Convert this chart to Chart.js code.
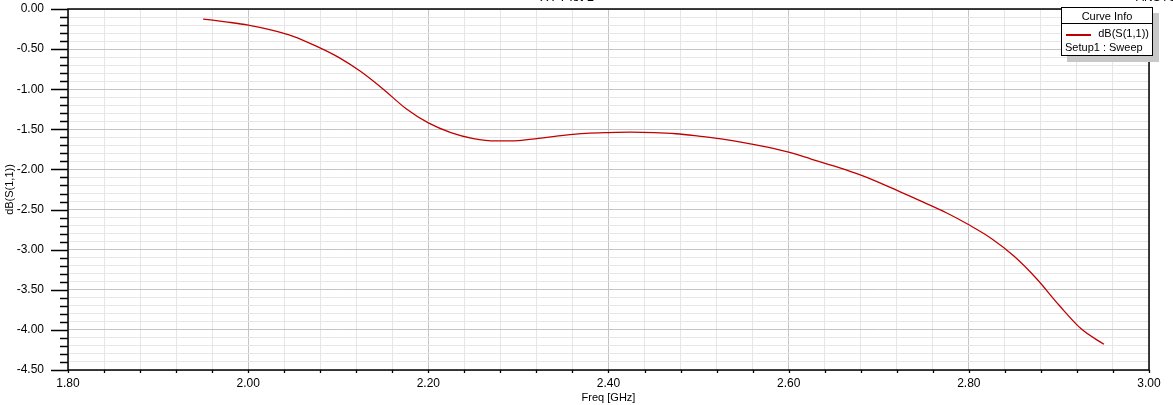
<!DOCTYPE html>
<html>
<head>
<meta charset="utf-8">
<script src="https://cdn.jsdelivr.net/npm/chart.js@4.4.1/dist/chart.umd.min.js"></script>
<style>
    body { margin: 0; background: #fff; overflow: hidden; }
    #wrap { position: relative; width: 1173px; height: 405px; }
    #plot { position: absolute; left: 0; top: 0; }
    .cut { position: absolute; font-family: "Liberation Sans", Arial, sans-serif; color: #000; }
    #legend {
        position: absolute; left: 1061px; top: 7px; width: 90px; height: 47px;
        border: 1px solid #000; background: #fff; box-shadow: 6px 6px 0 #c8c8c8;
        font-family: "Liberation Sans", Arial, sans-serif; font-size: 11px; color: #000;
    }
    #legend .head { height: 15px; line-height: 16px; text-align: center; border-bottom: 1px solid #000; }
    #legend .row { position: relative; height: 14px; line-height: 14px; padding: 0 3px; }
    #legend .swatch { position: absolute; left: 4px; top: 8px; width: 25px; height: 2px; background: #c00000; }
</style>
</head>
<body>
<div id="wrap">
    <canvas id="plot" width="1173" height="405"></canvas>
    <div class="cut" style="left:540px; top:-11px; font-size:13px;">XY Plot 1</div>
    <div class="cut" style="left:1136px; top:-10px; font-size:12px;">ANSYS</div>
    <div id="legend">
        <div class="head">Curve Info</div>
        <div class="row" style="text-align:right; margin-top:2px;"><span class="swatch"></span>dB(S(1,1))</div>
        <div class="row">Setup1 : Sweep</div>
    </div>
</div>
<script>
// Freq in GHz, S11 in dB
const freq = [1.95, 1.975, 2.00, 2.025, 2.05, 2.075, 2.10, 2.125, 2.15, 2.175, 2.20, 2.225, 2.25, 2.275,
    2.30, 2.325, 2.35, 2.375, 2.40, 2.425, 2.45, 2.475, 2.50, 2.525, 2.55, 2.575, 2.60, 2.625, 2.65, 2.675,
    2.70, 2.725, 2.75, 2.775, 2.80, 2.825, 2.85, 2.875, 2.90, 2.925, 2.95];
const s11 = [-0.125, -0.16, -0.20, -0.26, -0.34, -0.46, -0.60, -0.78, -1.00, -1.24, -1.42, -1.54, -1.615, -1.645,
    -1.64, -1.61, -1.575, -1.55, -1.54, -1.535, -1.54, -1.555, -1.585, -1.62, -1.665, -1.72, -1.785, -1.87, -1.955, -2.05,
    -2.16, -2.285, -2.41, -2.54, -2.69, -2.86, -3.08, -3.36, -3.69, -3.99, -4.18];

const xMajor = 0.2, yMajor = 0.5;

function isMajor(v, step) {
    return Math.abs(v / step - Math.round(v / step)) < 1e-6;
}

// box border + tick marks
const frame = {
    id: 'frame',
    afterDraw(chart) {
        const ctx = chart.ctx;
        const a = chart.chartArea;
        const xs = chart.scales.x, ys = chart.scales.y;
        ctx.save();
        ctx.strokeStyle = '#000';
        ctx.lineWidth = 1.5;
        ctx.strokeRect(a.left, a.top, a.right - a.left, a.bottom - a.top);
        ctx.lineWidth = 1.3;
        ctx.beginPath();
        ys.ticks.forEach(t => {
            const y = Math.round(ys.getPixelForValue(t.value)) + 0.5;
            const len = isMajor(t.value, yMajor) ? 17 : 8;
            ctx.moveTo(a.left - len, y);
            ctx.lineTo(a.left, y);
        });
        xs.ticks.forEach(t => {
            const x = Math.round(xs.getPixelForValue(t.value)) + 0.5;
            ctx.moveTo(x, a.bottom);
            ctx.lineTo(x, a.bottom + 3);
        });
        ctx.stroke();
        ctx.restore();
    }
};

const data = {
    datasets: [{
        label: 'dB(S(1,1))',
        data: freq.map((f, i) => ({ x: f, y: s11[i] })),
        borderColor: '#c00000',
        borderWidth: 1.3,
        pointRadius: 0,
        cubicInterpolationMode: 'monotone',
        fill: false
    }]
};

const config = {
    type: 'line',
    data: data,
    options: {
        responsive: false,
        animation: false,
        layout: { padding: { top: 9, right: 24, left: 0, bottom: 0 } },
        plugins: { legend: { display: false }, tooltip: { enabled: false } },
        scales: {
            x: {
                type: 'linear',
                min: 1.8,
                max: 3.0,
                afterFit: (s) => { s.height = 35; s.paddingLeft = 0; s.paddingRight = 0; },
                afterBuildTicks: (s) => {
                    const t = [];
                    for (let i = 0; i <= 30; i++) t.push({ value: +(1.8 + i * 0.04).toFixed(2) });
                    s.ticks = t;
                },
                grid: {
                    drawTicks: false,
                    color: (c) => isMajor(c.tick.value, xMajor) ? '#c4c4c4' : '#e6e6e6',
                    lineWidth: 1
                },
                border: { display: false },
                ticks: {
                    autoSkip: false,
                    maxRotation: 0,
                    padding: 6,
                    color: '#000',
                    font: { family: '"Liberation Sans", Arial, sans-serif', size: 12 },
                    callback: (v) => isMajor(v, xMajor) ? v.toFixed(2) : ''
                },
                title: {
                    display: true,
                    text: 'Freq [GHz]',
                    color: '#000',
                    padding: { top: -3, bottom: 0 },
                    font: { family: '"Liberation Sans", Arial, sans-serif', size: 11 }
                }
            },
            y: {
                min: -4.5,
                max: 0,
                afterFit: (s) => { s.width = 68; s.paddingTop = 0; s.paddingBottom = 0; },
                afterBuildTicks: (s) => {
                    const t = [];
                    for (let i = 0; i <= 45; i++) t.push({ value: +(-4.5 + i * 0.1).toFixed(2) });
                    s.ticks = t;
                },
                grid: {
                    drawTicks: false,
                    color: (c) => isMajor(c.tick.value, yMajor) ? '#c4c4c4' : '#e6e6e6',
                    lineWidth: 1
                },
                border: { display: false },
                ticks: {
                    autoSkip: false,
                    padding: 24,
                    color: '#000',
                    font: { family: '"Liberation Sans", Arial, sans-serif', size: 12 },
                    callback: (v) => isMajor(v, yMajor) ? v.toFixed(2) : ''
                },
                title: {
                    display: true,
                    text: 'dB(S(1,1))',
                    color: '#000',
                    padding: { top: 3, bottom: 0 },
                    font: { family: '"Liberation Sans", Arial, sans-serif', size: 11 }
                }
            }
        }
    },
    plugins: [frame]
};

const ctx = document.getElementById('plot').getContext('2d');
window.myChart = new Chart(ctx, config);
</script>
</body>
</html>
